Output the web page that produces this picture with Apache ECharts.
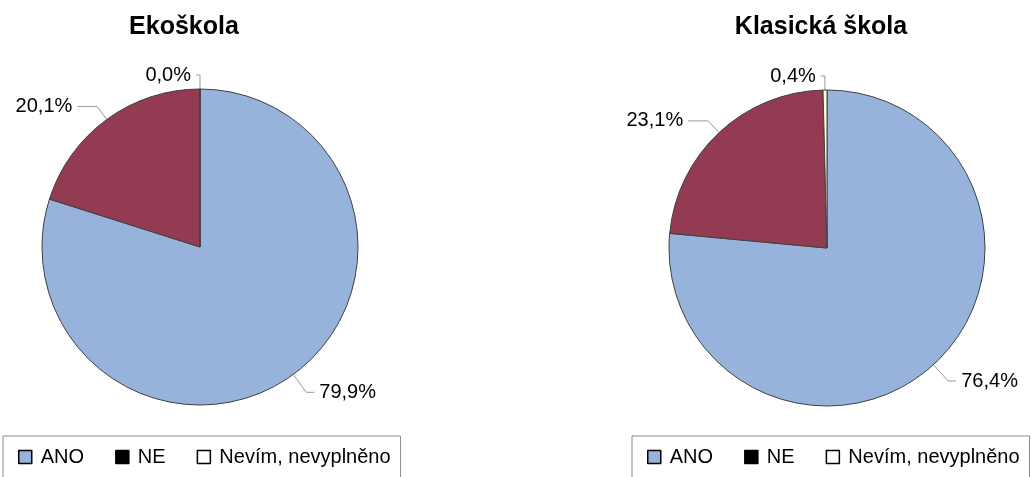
<!DOCTYPE html>
<html>
<head>
<meta charset="utf-8">
<script src="https://cdn.jsdelivr.net/npm/echarts@6/dist/echarts.min.js"></script>
<style>
  html, body { margin: 0; padding: 0; background: #fff; }
  #chart { width: 1031px; height: 477px; }
</style>
</head>
<body>
<div id="chart"></div>
<script>
'use strict';

// kategorie odpovědí
var categories = ['ANO', 'NE', 'Nevím, nevyplněno'];
var titles = ['Ekoškola', 'Klasická škola'];
// podíly v %
var ekoValues = [79.9, 20.1, 0.0];
var klasValues = [76.4, 23.1, 0.4];

var colors = ['#97b3dc', '#933b52', '#ffffe0'];
var legendFill = ['#97b3dc', '#000000', '#ffffff'];
var font = 'Liberation Sans, Arial, sans-serif';

// délky vodicích čar popisků (podle kategorie)
function lineFor(i) {
    if (i === 0) return { length: 22, length2: 8 };
    if (i === 1) return { length: 16, length2: 20 };
    return { length: 14, length2: 4 };
}

function toData(values) {
    return categories.map(function(name, i) {
        return { name: name, value: values[i], labelLine: lineFor(i) };
    });
}

function pct(p) {
    return p.value.toFixed(1).replace('.', ',') + '%';
}

function makeLegend(left, top) {
    return {
        left: left,
        top: top,
        orient: 'horizontal',
        icon: 'rect',
        itemWidth: 13,
        itemHeight: 13,
        itemGap: 31,
        padding: [11, 10, 14, 15],
        borderColor: '#8a8a8a',
        borderWidth: 1,
        textStyle: { fontFamily: font, fontSize: 20, color: '#000', padding: [0, 0, 0, 4] },
        itemStyle: { borderColor: '#000', borderWidth: 1.5 },
        data: categories.map(function(name, i) {
            return { name: name, itemStyle: { color: legendFill[i] } };
        })
    };
}

function makeSeries(values, center) {
    return {
        type: 'pie',
        radius: 158,
        center: center,
        startAngle: 90,
        clockwise: true,
        avoidLabelOverlap: false,
        animation: false,
        silent: true,
        data: toData(values),
        itemStyle: { borderColor: '#404040', borderWidth: 1 },
        label: {
            formatter: pct,
            fontFamily: font,
            fontSize: 20,
            color: '#000'
        },
        labelLine: {
            lineStyle: { color: '#999', width: 1 }
        }
    };
}

var chart = echarts.init(document.getElementById('chart'));
chart.setOption({
    backgroundColor: '#fff',
    color: colors,
    title: [
        { text: titles[0], left: 179, top: 10, textAlign: 'center',
          textStyle: { fontFamily: font, fontSize: 25, fontWeight: 'bold', color: '#000' } },
        { text: titles[1], left: 816, top: 10, textAlign: 'center',
          textStyle: { fontFamily: font, fontSize: 25, fontWeight: 'bold', color: '#000' } }
    ],
    legend: [makeLegend(3, 436), makeLegend(632, 436)],
    series: [
        makeSeries(ekoValues, [200, 247]),
        makeSeries(klasValues, [827, 248])
    ]
});
</script>
</body>
</html>
